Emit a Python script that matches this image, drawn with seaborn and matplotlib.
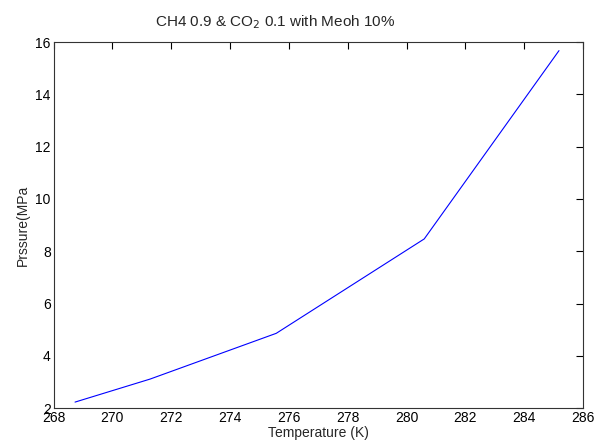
import matplotlib
matplotlib.use("Agg")
import matplotlib.pyplot as plt
import seaborn as sns
import pandas as pd

# Hydrate equilibrium curve data
temperature_k = [268.73, 271.28, 275.57, 280.60, 285.18]
pressure_mpa = [2.23, 3.11, 4.86, 8.47, 15.67]

x_ticks = [268, 270, 272, 274, 276, 278, 280, 282, 284, 286]
y_ticks = [2, 4, 6, 8, 10, 12, 14, 16]

sns.set_style("white")
plt.rcParams["font.family"] = ["Liberation Sans", "DejaVu Sans"]

df = pd.DataFrame({"T": temperature_k, "P": pressure_mpa})

fig = plt.figure(figsize=(5.95, 4.47), dpi=100)
ax = fig.add_axes([0.09, 0.087, 0.89, 0.819])
sns.lineplot(data=df, x="T", y="P", ax=ax, color="#0000ff", linewidth=0.8, sort=False)

ax.set_xlim(268, 286)
ax.set_ylim(2, 16)
ax.set_xticks(x_ticks)
ax.set_yticks(y_ticks)
ax.tick_params(direction="in", length=5, width=0.8, top=True, right=True,
               labelsize=10, colors="black", pad=2)
for s in ax.spines.values():
    s.set_color("#333333")
    s.set_linewidth(0.8)

ax.set_xlabel("Temperature (K)", fontsize=10, labelpad=1)
ax.set_ylabel("Prssure(MPa", fontsize=10, labelpad=4)
ax.set_title("CH4 0.9 & CO$_2$ 0.1 with Meoh 10%", fontsize=11, x=0.419, pad=11)

fig.savefig("out.png", dpi=100)
